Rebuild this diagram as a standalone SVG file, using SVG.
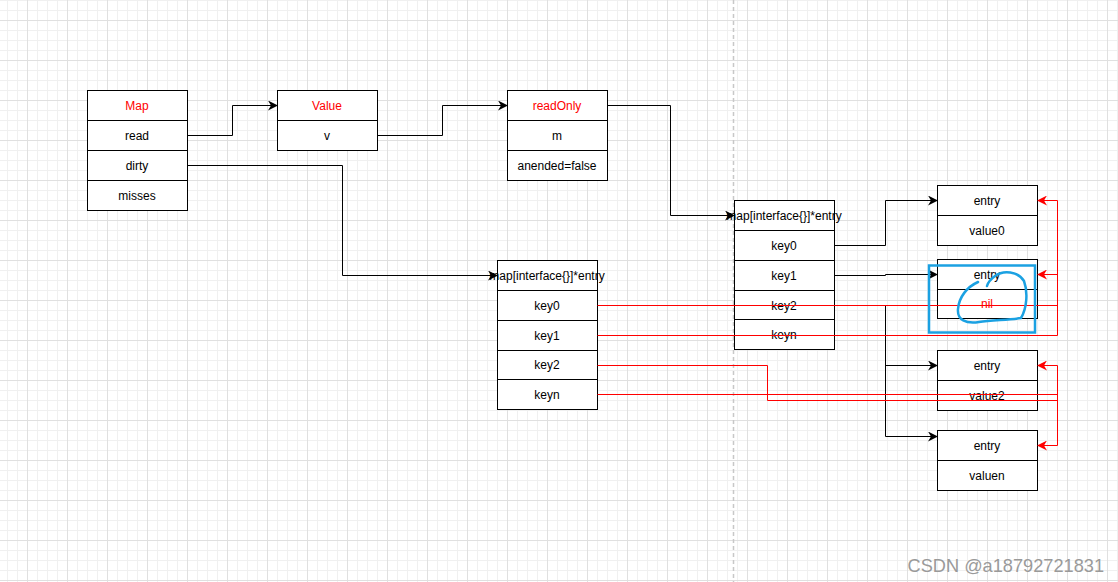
<svg xmlns="http://www.w3.org/2000/svg" width="1118" height="582" viewBox="0 0 1118 582">
<defs>
<pattern id="grid" x="27" y="20" width="40" height="40" patternUnits="userSpaceOnUse">
<path d="M10.5 0V40M20.5 0V40M30.5 0V40M0 10.5H40M0 20.5H40M0 30.5H40" stroke="#f0f0f0" stroke-width="1" fill="none"/>
<path d="M0.5 0V40M0 0.5H40" stroke="#e0e0e0" stroke-width="1" fill="none"/>
</pattern>
<marker id="ab" viewBox="0 0 10 10" refX="9" refY="5" markerWidth="10" markerHeight="10" markerUnits="userSpaceOnUse" orient="auto">
<path d="M0 0L10 5L0 10L3 5Z" fill="#000"/>
</marker>
<marker id="ar" viewBox="0 0 10 10" refX="9" refY="5" markerWidth="10" markerHeight="10" markerUnits="userSpaceOnUse" orient="auto">
<path d="M0 0L10 5L0 10L3 5Z" fill="#ff0000"/>
</marker>
<style>
.c{fill:#fff;stroke:#000;stroke-width:1}
.t{font-family:"Liberation Sans",Arial,sans-serif;font-size:12px;fill:#000;text-anchor:middle;dominant-baseline:central}
.r{fill:#ff0000}
.e{fill:none;stroke:#000;stroke-width:1}
.er{fill:none;stroke:#ff0000;stroke-width:1}
</style>
</defs>
<rect width="1118" height="582" fill="#fff"/>
<rect width="1118" height="582" fill="url(#grid)"/>
<line x1="733.5" y1="0" x2="733.5" y2="582" stroke="#c8c8c8" stroke-width="1.5" stroke-dasharray="4 3"/>

<g id="map">
<rect class="c" x="87.5" y="90.5" width="100" height="30"/>
<rect class="c" x="87.5" y="120.5" width="100" height="30"/>
<rect class="c" x="87.5" y="150.5" width="100" height="30"/>
<rect class="c" x="87.5" y="180.5" width="100" height="30"/>
<text class="t r" x="137" y="106">Map</text>
<text class="t" x="137" y="136">read</text>
<text class="t" x="137" y="166">dirty</text>
<text class="t" x="137" y="196">misses</text>
</g>

<g id="value">
<rect class="c" x="277.5" y="90.5" width="100" height="30"/>
<rect class="c" x="277.5" y="120.5" width="100" height="30"/>
<text class="t r" x="327" y="106">Value</text>
<text class="t" x="327" y="136">v</text>
</g>

<g id="readOnly">
<rect class="c" x="507.5" y="90.5" width="100" height="30"/>
<rect class="c" x="507.5" y="120.5" width="100" height="30"/>
<rect class="c" x="507.5" y="150.5" width="100" height="30"/>
<text class="t r" x="557" y="106">readOnly</text>
<text class="t" x="557" y="136">m</text>
<text class="t" x="557" y="166">anended=false</text>
</g>

<g id="dirtyMap">
<rect class="c" x="497.5" y="260.5" width="100" height="30"/>
<rect class="c" x="497.5" y="290.5" width="100" height="30"/>
<rect class="c" x="497.5" y="320.5" width="100" height="30"/>
<rect class="c" x="497.5" y="350.5" width="100" height="29"/>
<rect class="c" x="497.5" y="379.5" width="100" height="30"/>
<text class="t" x="547" y="276">map[interface{}]*entry</text>
<text class="t" x="547" y="306">key0</text>
<text class="t" x="547" y="336">key1</text>
<text class="t" x="547" y="365">key2</text>
<text class="t" x="547" y="395">keyn</text>
</g>

<g id="readMap">
<rect class="c" x="734.5" y="200.5" width="100" height="30"/>
<rect class="c" x="734.5" y="230.5" width="100" height="30"/>
<rect class="c" x="734.5" y="260.5" width="100" height="30"/>
<rect class="c" x="734.5" y="290.5" width="100" height="29"/>
<rect class="c" x="734.5" y="319.5" width="100" height="30"/>
<text class="t" x="784" y="216">map[interface{}]*entry</text>
<text class="t" x="784" y="246">key0</text>
<text class="t" x="784" y="276">key1</text>
<text class="t" x="784" y="306">key2</text>
<text class="t" x="784" y="335">keyn</text>
</g>

<g id="entry0">
<rect class="c" x="937.5" y="185.5" width="100" height="30"/>
<rect class="c" x="937.5" y="215.5" width="100" height="30"/>
<text class="t" x="987" y="201">entry</text>
<text class="t" x="987" y="231">value0</text>
</g>

<g id="entry1">
<rect class="c" x="937.5" y="259.5" width="100" height="30"/>
<rect class="c" x="937.5" y="289.5" width="100" height="29"/>
<text class="t" x="987" y="275">entry</text>
<text class="t r" x="987" y="304">nil</text>
</g>

<g id="entry2">
<rect class="c" x="937.5" y="350.5" width="100" height="30"/>
<rect class="c" x="937.5" y="380.5" width="100" height="30"/>
<text class="t" x="987" y="366">entry</text>
<text class="t" x="987" y="396">value2</text>
</g>

<g id="entryn">
<rect class="c" x="937.5" y="430.5" width="100" height="30"/>
<rect class="c" x="937.5" y="460.5" width="100" height="30"/>
<text class="t" x="987" y="446">entry</text>
<text class="t" x="987" y="476">valuen</text>
</g>

<g id="connectors">
<path class="e" d="M187.5 135.5H232.5V105.5H277" marker-end="url(#ab)"/>
<path class="e" d="M377.5 135.5H442.5V105.5H507" marker-end="url(#ab)"/>
<path class="e" d="M187.5 165.5H342.5V275.5H497" marker-end="url(#ab)"/>
<path class="e" d="M607.5 105.5H670.5V215.5H734" marker-end="url(#ab)"/>
<path class="e" d="M834.5 245.5H885.5V200.5H937" marker-end="url(#ab)"/>
<path class="e" d="M834.5 275.5H885.5V274.5H937" marker-end="url(#ab)"/>
<path class="e" d="M834.5 305.5H885.5V365.5H937" marker-end="url(#ab)"/>
<path class="e" d="M834.5 335.5H885.5V436.5H937" marker-end="url(#ab)"/>
<path class="er" d="M597.5 305.5H1057.5V274.5H1038" marker-end="url(#ar)"/>
<path class="er" d="M597.5 335.5H1057.5V200.5H1038" marker-end="url(#ar)"/>
<path class="er" d="M597.5 365.5H767.5V400.5H1057.5V365.5H1038" marker-end="url(#ar)"/>
<path class="er" d="M597.5 394.5H1057.5V445.5H1038" marker-end="url(#ar)"/>
</g>

<g id="annotation">
<rect x="929" y="265.5" width="106" height="67" fill="none" stroke="#1ba1e2" stroke-width="2.5"/>
<path d="M978 282C967 287 959 297 958 309C957 320 966 324 979 322C992 320 1010 320 1021 318C1027 308 1028 292 1024 281C1018 271 1003 270 995 276C991 279 988 282 987 286" fill="none" stroke="#1ba1e2" stroke-width="2.5" stroke-linecap="round" stroke-linejoin="round"/>
</g>

<text x="1104" y="572" text-anchor="end" font-family="'Liberation Sans',Arial,sans-serif" font-size="18.2" fill="#9a9a9a">CSDN @a18792721831</text>
</svg>
